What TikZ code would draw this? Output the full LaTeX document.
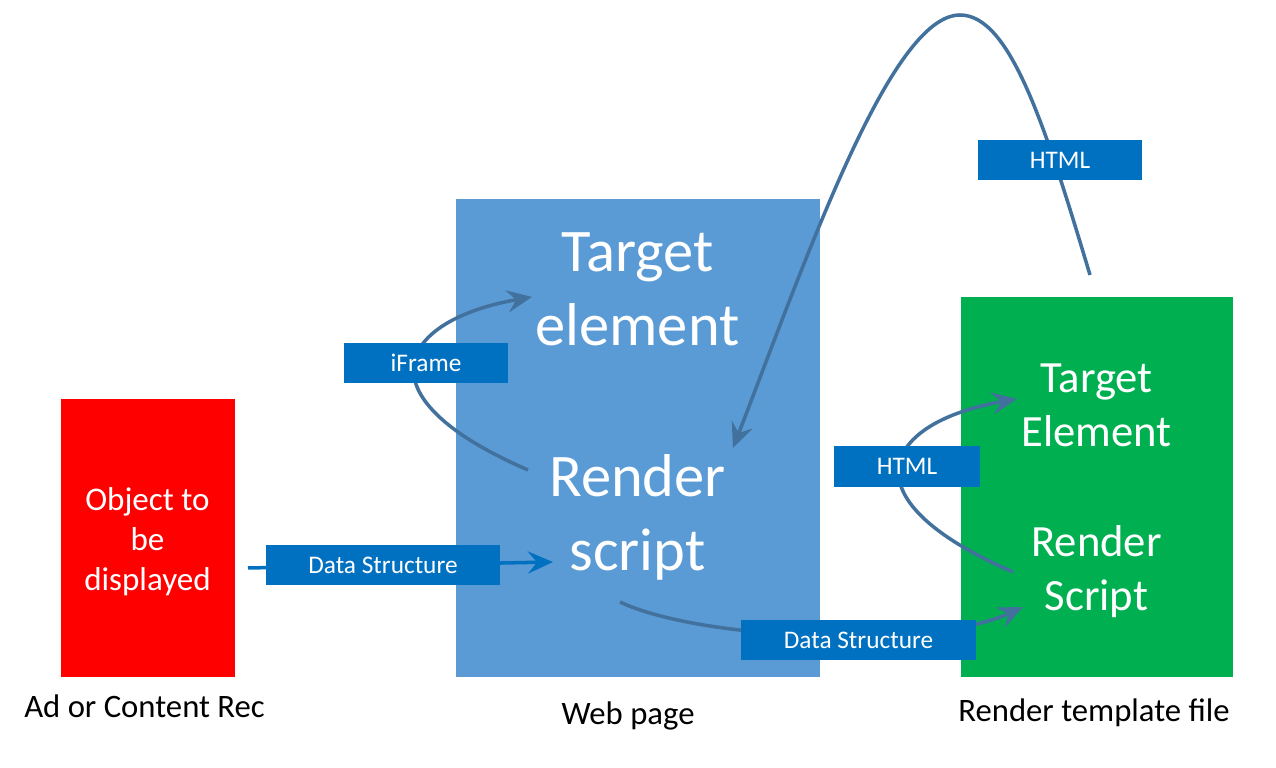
\documentclass[tikz,border=0pt]{standalone}
\usepackage{fontspec}
\setmainfont{Carlito}
\usepackage{xcolor}
\usetikzlibrary{arrows.meta, positioning, calc}

\definecolor{objred}{HTML}{FF0000}
\definecolor{pageblue}{HTML}{5B9BD5}
\definecolor{tmplgreen}{HTML}{00B050}
\definecolor{tagblue}{HTML}{0070C0}
\definecolor{flowblue}{HTML}{41719C}

\begin{document}
\begin{tikzpicture}[x=0.01cm, y=-0.01cm,
  >={Stealth[length=2.5mm, width=2.2mm, inset=0.9mm]},
  panel/.style={rectangle, inner sep=0pt, text=white, align=center},
  bigtext/.style={text=white, align=center, font=\fontsize{17.2}{21}\selectfont},
  midtext/.style={text=white, align=center, font=\fontsize{12.7}{15.3}\selectfont},
  caption/.style={anchor=base, font=\fontsize{9.3}{11}\selectfont},
  tag/.style={rectangle, fill=tagblue, text=white, inner sep=0pt, minimum height=0.4cm, font=\fontsize{7.2}{8}\selectfont},
  flow/.style={draw=flowblue, line width=1pt}]
\useasboundingbox (0,0) rectangle (1276,768);

% the three blocks
\node[panel, fill=objred, minimum width=1.74cm, minimum height=2.78cm] (obj) at (148,538) {};
\node[panel, fill=pageblue, minimum width=3.64cm, minimum height=4.78cm] (page) at (638,438) {};
\node[panel, fill=tmplgreen, minimum width=2.72cm, minimum height=3.80cm] (tmpl) at (1097,487) {};

\node[panel, font=\fontsize{9.4}{11.4}\selectfont] (objtext) at (147.5,542) {Object to\\be\\displayed};
\node[bigtext] (pgtarget) at (637.5,289.5) {Target\\element};
\node[bigtext] (pgscript) at (637.5,517) {Render\\script};
\node[midtext] (tmtarget) at (1096.5,405.7) {Target\\Element};
\node[midtext] (tmscript) at (1096.5,572) {Render\\Script};

\node[caption] (objcap) at (144.5,718) {Ad or Content Rec};
\node[caption] (pagecap) at (628,725) {Web page};
\node[caption] (tmplcap) at (1094,722) {Render template file};

% arrow ends
\coordinate (ifrom) at (528,470);
\coordinate (ito) at (532,297);
\coordinate (dsfrom) at (248,568);
\coordinate (dsto) at (553,562);
\coordinate (rsfrom) at (620,602);
\coordinate (rsto) at (1023,607);
\coordinate (hfrom) at (1013,572);
\coordinate (hto) at (1017,399);
\coordinate (tfrom) at (1090,275);
\coordinate (tto) at (733,448);

\draw[flow, ->] (ifrom) .. controls (355,395) and (400,320) .. (ito);
\draw[flow, draw=tagblue, ->] (dsfrom) -- (dsto);
\draw[flow, ->] (rsfrom) .. controls (700,640) and (930,650) .. (rsto);
\draw[flow, ->] (hfrom) .. controls (840,497) and (885,422) .. (hto);
\draw[flow, ->] (tfrom) .. controls (1045,125) and (1010,15) .. (960,15)
  .. controls (890,15) and (805,262) .. (tto);

% labels on the arrows
\node[tag, minimum width=1.64cm] (iframetag) at (426,363) {iFrame};
\node[tag, minimum width=2.34cm] (dstagA) at (383,565) {Data Structure};
\node[tag, minimum width=2.34cm] (dstagB) at (858.5,640) {Data Structure};
\node[tag, minimum width=1.46cm] (htmltagA) at (907,466.5) {HTML};
\node[tag, minimum width=1.64cm] (htmltagB) at (1060,160.5) {HTML};
\end{tikzpicture}
\end{document}
